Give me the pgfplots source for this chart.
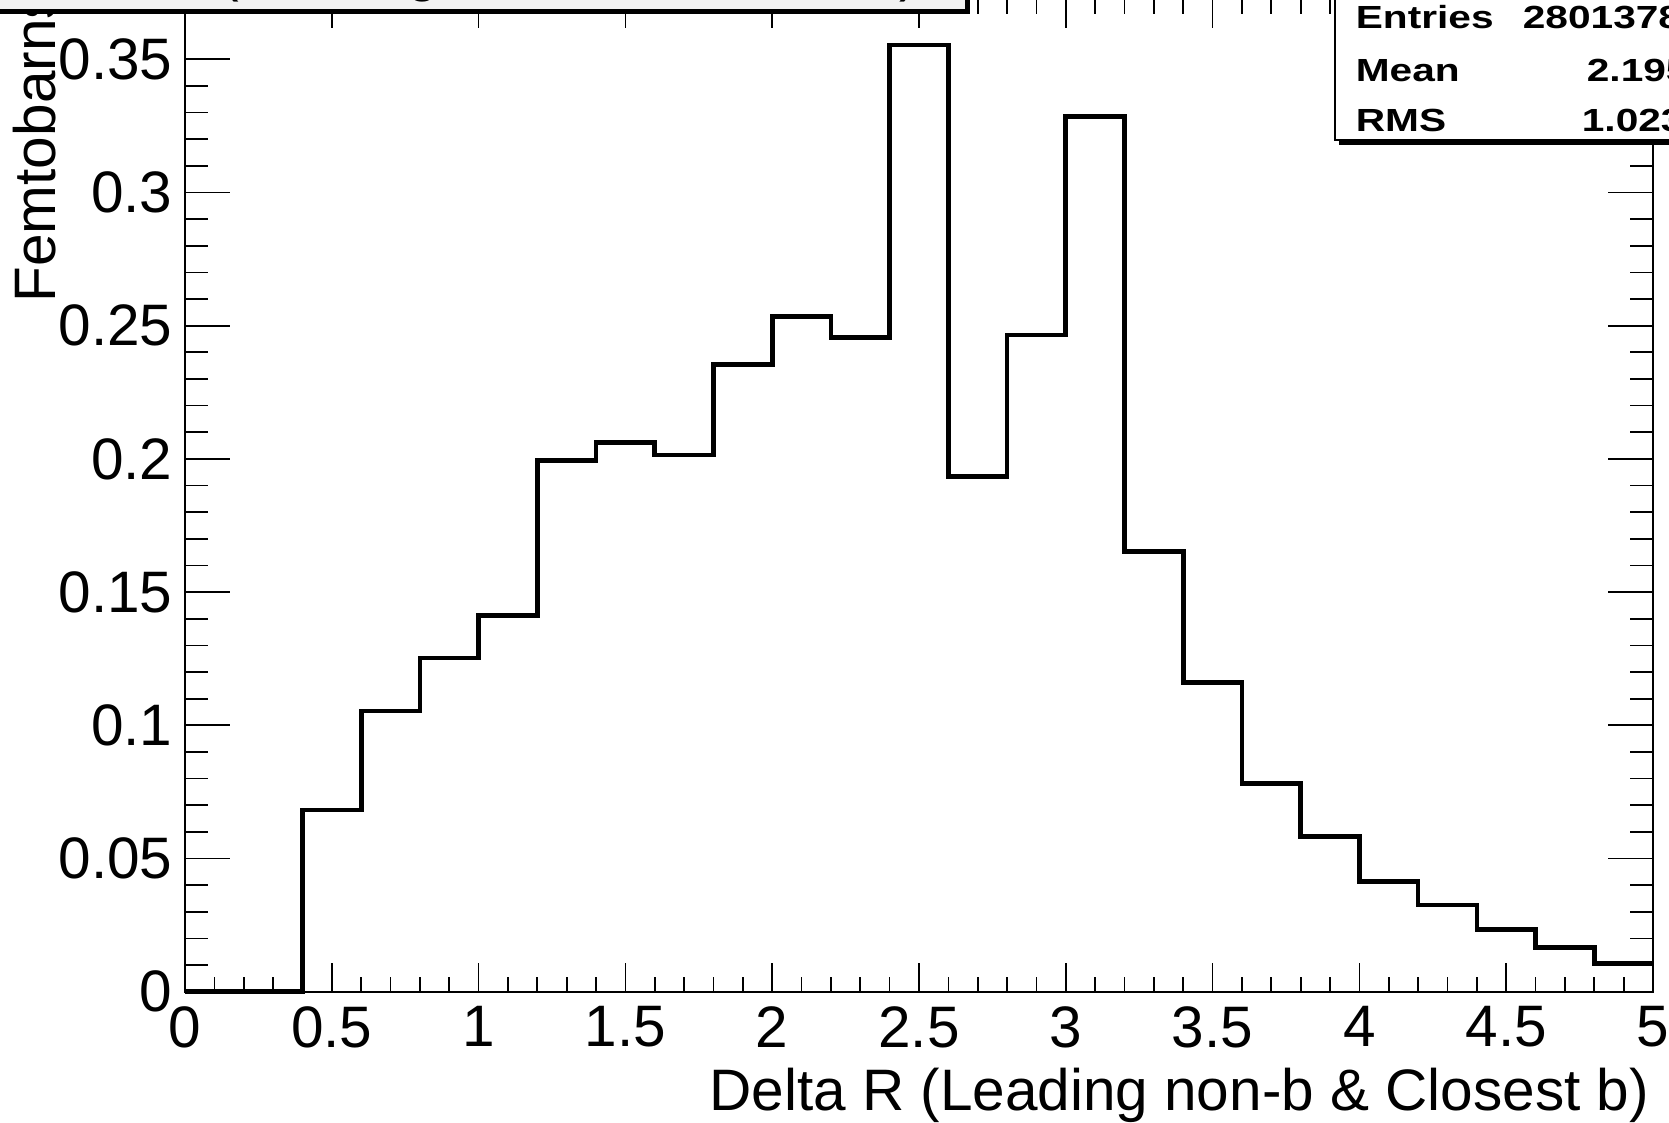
\documentclass[border=0pt]{standalone}
\usepackage{pgfplots}
\pgfplotsset{compat=1.18}
\usepackage{fontspec}
\setmainfont{Liberation Sans}
\definecolor{titlegray}{RGB}{242,242,242}
\newcommand{\bigf}{\fontsize{17.55}{21}\selectfont}

\begin{document}
\begin{tikzpicture}
\path[use as bounding box] (0pt,0pt) rectangle (500.7pt,336.9pt);
\clip (0pt,0pt) rectangle (500.7pt,336.9pt);
\pgfplotsset{
 hist/.style={
  scale only axis, width=440.4pt, height=297.81pt,
  at={(55.5pt,39.39pt)}, anchor=south west,
  xmin=0, xmax=5, ymin=0, ymax=0.37264,
  axis line style={line width=0.6pt, black},
  tick style={line width=0.51pt, black},
  tick align=inside, tick pos=both,
  /pgf/number format/assume math mode=true,
  tick label style={font=\bigf},
  clip=false,
 }
}
\begin{axis}[hist,
  xtick={0,0.5,1,1.5,2,2.5,3,3.5,4,4.5,5},
  xticklabels={0,0.5,1,1.5,2,2.5,3,3.5,4,4.5,5},
  minor x tick num=4,
  ytick=\empty,
  major tick length=8.7pt, minor tick length=4.5pt,
  xticklabel style={anchor=north, inner sep=0pt, yshift=-4.29pt},
  xlabel={Delta R (Leading non-b \& Closest b)},
  xlabel style={at={(rel axis cs:0.99776,-0.12018)}, anchor=base east, inner sep=0pt, font=\bigf},
]
\addplot[const plot, black, line width=1.41pt, line join=miter, mark=none] coordinates {
(0.0,0) (0.2,0) (0.4,0.0682) (0.6,0.1054) (0.8,0.1253) (1.0,0.1413)
(1.2,0.1993) (1.4,0.2062) (1.6,0.2015) (1.8,0.2354) (2.0,0.2534)
(2.2,0.2455) (2.4,0.3554) (2.6,0.1933) (2.8,0.2465) (3.0,0.3285)
(3.2,0.1653) (3.4,0.1161) (3.6,0.0782) (3.8,0.0582) (4.0,0.0414)
(4.2,0.0325) (4.4,0.0233) (4.6,0.0166) (4.8,0.0106) (5.0,0.0106)
};
\end{axis}
\begin{axis}[hist,
  xtick=\empty, minor x tick num=0,
  ytick={0,0.05,0.1,0.15,0.2,0.25,0.3,0.35},
  yticklabels={0,0.05,0.1,0.15,0.2,0.25,0.3,0.35},
  minor y tick num=4,
  major tick length=13.5pt, minor tick length=6.9pt,
  yticklabel style={anchor=east, inner sep=0pt, xshift=-3.6pt},
  ylabel={Femtobarns},
  ylabel style={at={(rel axis cs:-0.0885,0.69377)}, anchor=base west, inner sep=0pt, font=\bigf},
]
\end{axis}
\begin{scope}[x=0.3pt, y=-0.3pt, shift={(0pt,336.9pt)}]
 % title box (cut off at the top)
 \fill[black] (-6,-20) rectangle (970,14);
 \filldraw[fill=titlegray, draw=black, line width=0.45pt] (-10,-30) rectangle (966,10);
 \node[anchor=base west, inner sep=0pt, font=\fontsize{16.8}{20}\selectfont] at (18,-9) {Delta R (Leading non-b \& Closest b)};
 % statistics box
 \fill[black] (1339,-20) rectangle (1710,145);
 \filldraw[fill=white, draw=black, line width=0.45pt] (1335,-30) rectangle (1710,140);
 \begin{scope}[every node/.style={anchor=base west, inner sep=0pt, font=\bfseries\fontsize{9.6}{11.5}\selectfont, xscale=1.27}]
  \node at (1355,29) {Entries};
  \node at (1355,82) {Mean};
  \node at (1355,132) {RMS};
  \node at (1522,29) {2801378};
  \node at (1586,82) {2.195};
  \node at (1581,132) {1.023};
 \end{scope}
\end{scope}
\end{tikzpicture}
\end{document}
